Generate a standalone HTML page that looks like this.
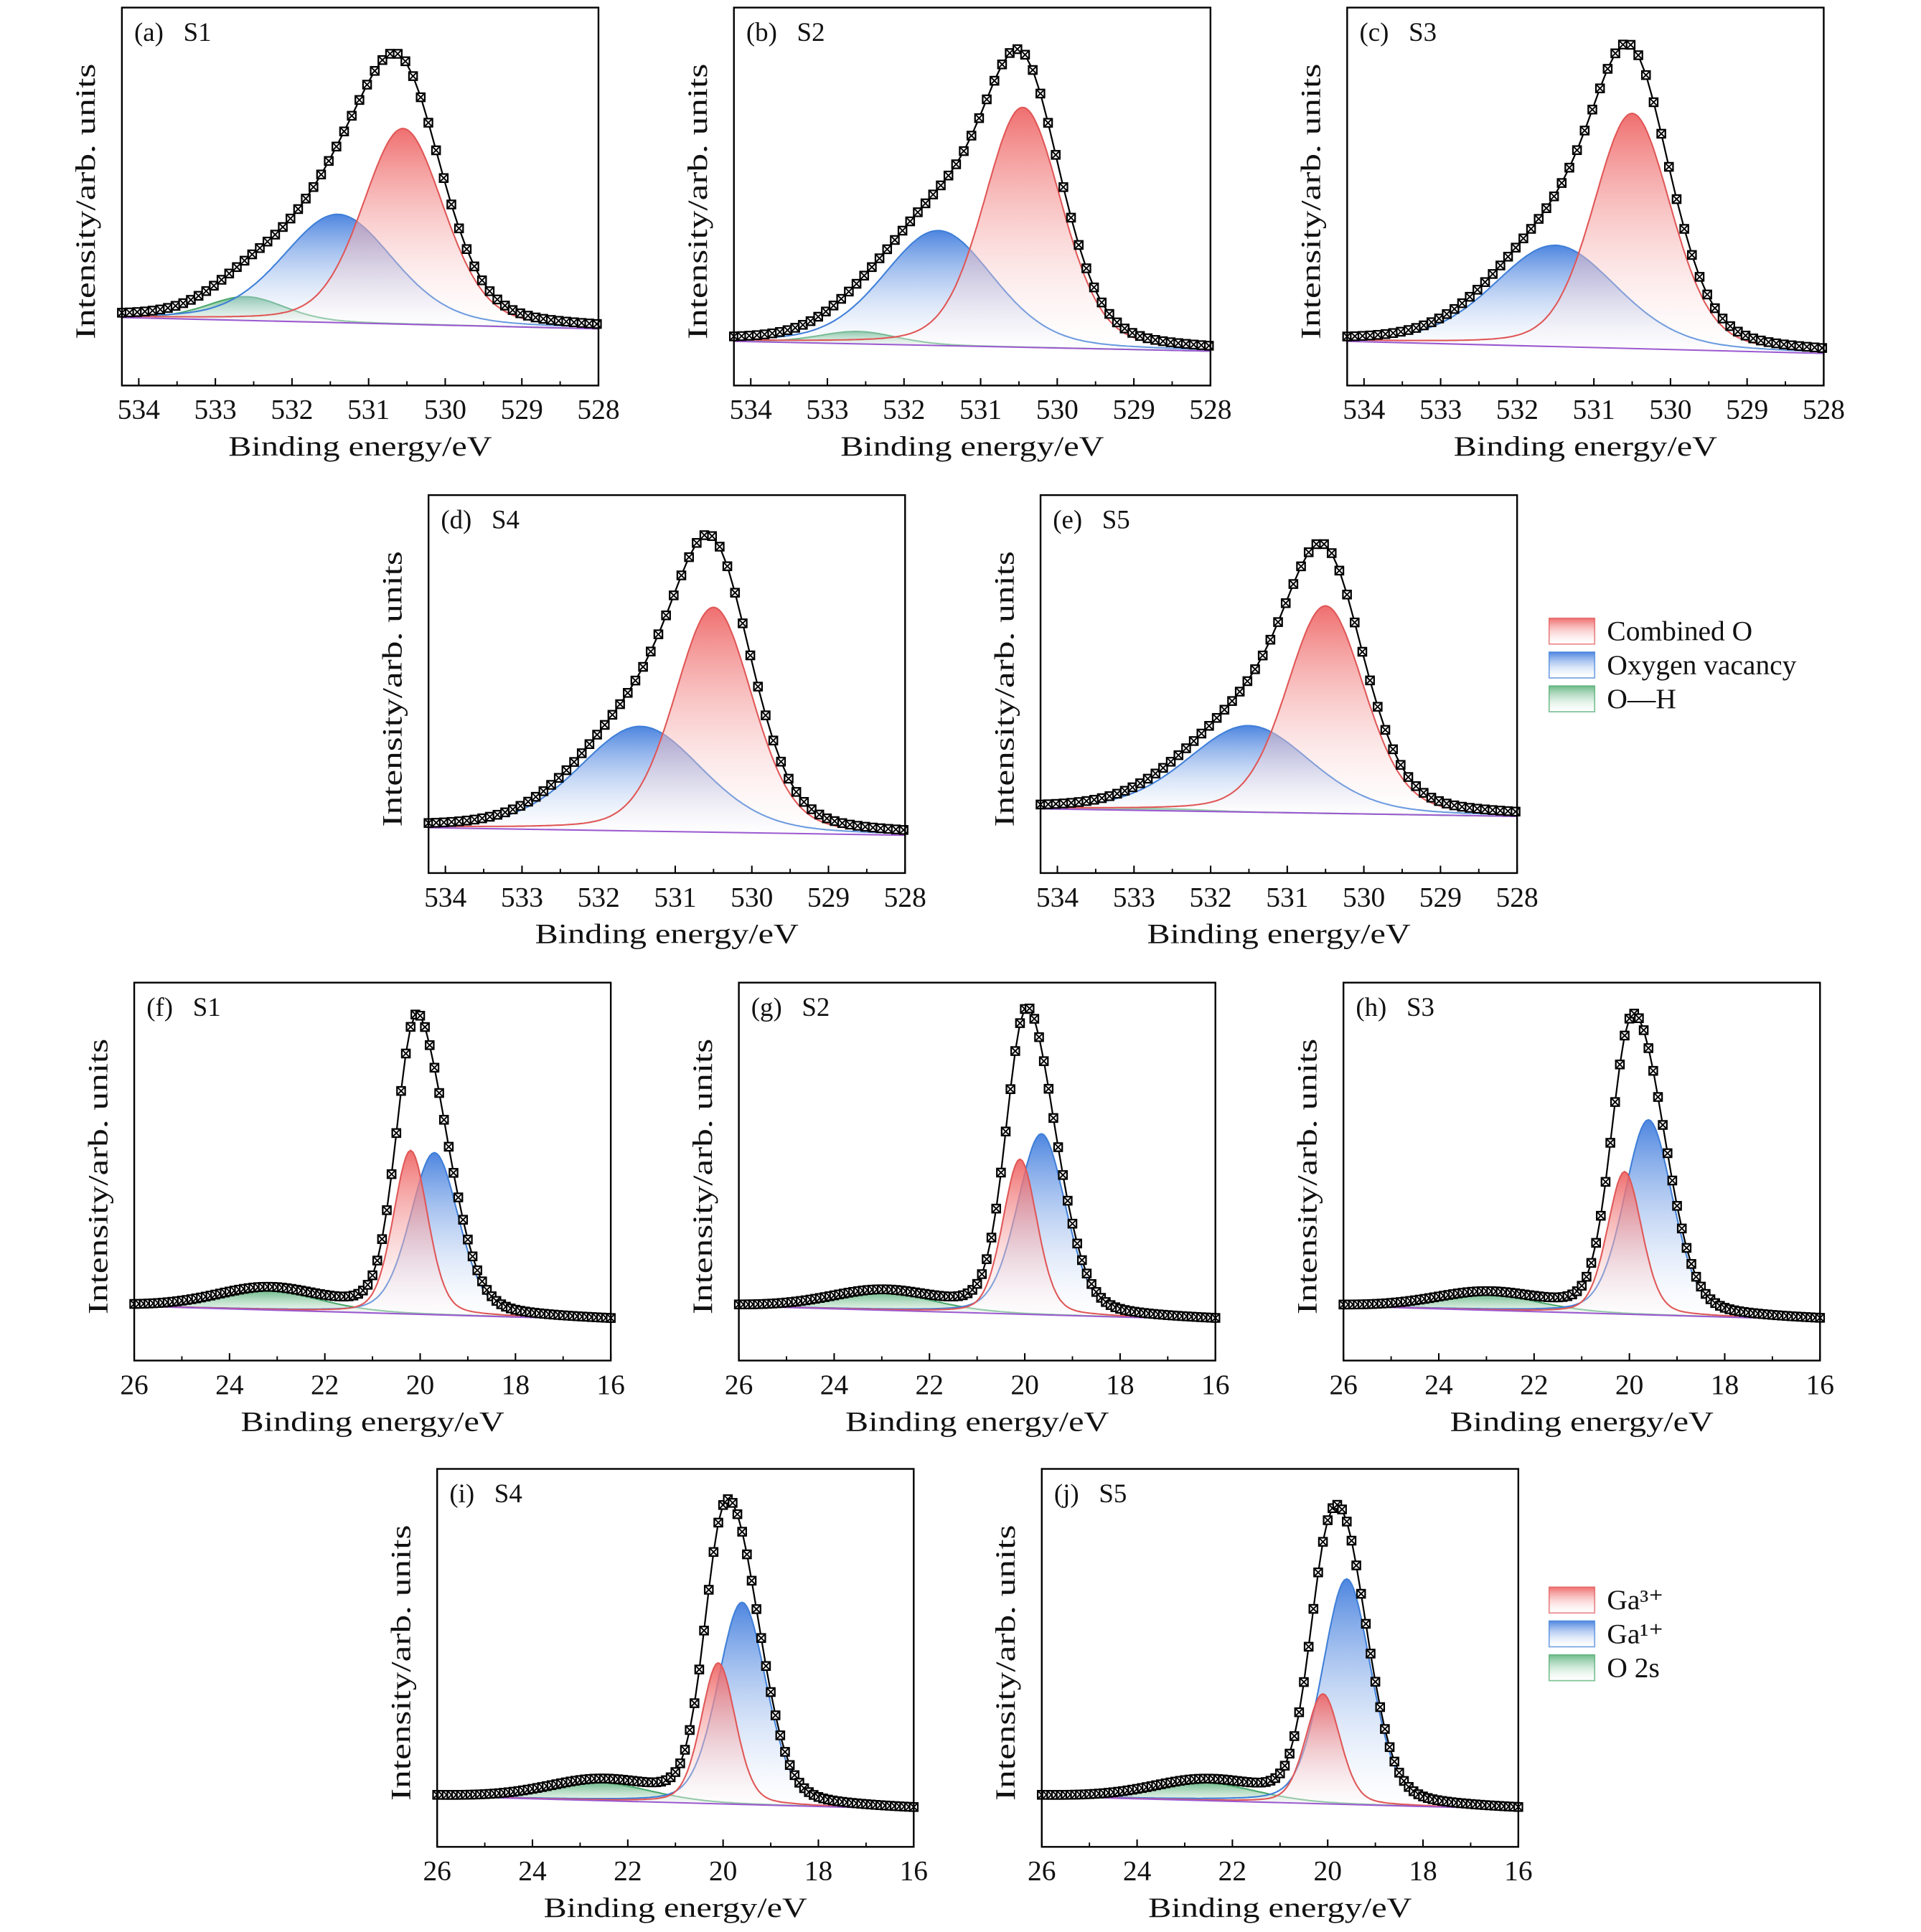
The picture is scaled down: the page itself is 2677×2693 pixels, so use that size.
<!DOCTYPE html>
<html><head><meta charset="utf-8">
<style>
html,body{margin:0;padding:0;background:#fff;}
svg{display:block;font-family:"Liberation Serif",serif;}
</style></head>
<body>
<svg id="fig" width="2677" height="2693" viewBox="0 0 1560 1569" xmlns="http://www.w3.org/2000/svg">
<defs>
<linearGradient id="gRed" x1="0" y1="0" x2="0" y2="1"><stop offset="0" stop-color="#ee5f5f" stop-opacity="0.9"/><stop offset="1" stop-color="#ffffff" stop-opacity="0.2"/></linearGradient>
<linearGradient id="gBlue" x1="0" y1="0" x2="0" y2="1"><stop offset="0" stop-color="#3a78dc" stop-opacity="0.9"/><stop offset="1" stop-color="#ffffff" stop-opacity="0.2"/></linearGradient>
<linearGradient id="gGreen" x1="0" y1="0" x2="0" y2="1"><stop offset="0" stop-color="#4aaa6e" stop-opacity="0.8"/><stop offset="1" stop-color="#ffffff" stop-opacity="0.2"/></linearGradient>
</defs>
</svg>
<script>
// ---- data ----
const panelLabels = ["(a)  S1","(b)  S2","(c)  S3","(d)  S4","(e)  S5","(f)  S1","(g)  S2","(h)  S3","(i)  S4","(j)  S5"];
const panelKinds = ["O","O","O","O","O","Ga","Ga","Ga","Ga","Ga"];
// peak order: red, blue, green
const peakCenters = [
 [530.55,531.4,532.6],[530.45,531.55,532.6],[530.5,531.5,532.6],[530.5,531.45,532.6],[530.5,531.5,532.6],
 [20.2,19.7,23.2],[20.1,19.65,23.0],[20.1,19.6,23.0],[20.1,19.6,22.6],[20.1,19.6,22.6]];
const peakTops = [
 [0.68,0.453,0.235],[0.736,0.41,0.143],[0.72,0.371,0.11],[0.703,0.388,0.115],[0.707,0.39,0.17],
 [0.556,0.55,0.185],[0.533,0.60,0.18],[0.50,0.637,0.175],[0.487,0.647,0.17],[0.405,0.709,0.17]];
const peakFwhm = [
 [1.25,1.7,1.2],[1.2,1.7,1.2],[1.2,1.9,1.2],[1.2,1.9,1.2],[1.2,1.9,1.2],
 [0.85,1.2,2.6],[0.85,1.2,2.6],[0.85,1.2,2.6],[0.85,1.2,2.6],[0.85,1.2,2.6]];
const envelopeTops = [0.88,0.89,0.905,0.896,0.873,0.918,0.935,0.918,0.92,0.905];
const baseLeft = [0.18,0.117,0.117,0.12,0.17,0.144,0.144,0.144,0.134,0.134];
const baseRight = [0.15,0.091,0.085,0.10,0.15,0.108,0.108,0.108,0.10,0.10];
const oTicks = [534,533,532,531,530,529,528];
const gaTicks = [26,24,22,20,18,16];
const legend1 = ["Combined O","Oxygen vacancy","O—H"];
const legend2 = ["Ga³⁺","Ga¹⁺","O 2s"];

// ---- layout ----
const boxes = [[99,6],[596,6],[1094,6],[348,402],[845,402],[109,798],[600,798],[1091,798],[355,1193],[846,1193]];
const BW=387, BH=307;
const NS="http://www.w3.org/2000/svg";
const svg=document.getElementById('fig');
function mk(tag,attrs,parent){const e=document.createElementNS(NS,tag);for(const k in attrs)e.setAttribute(k,attrs[k]);(parent||svg).appendChild(e);return e;}
function pv(x,c,f){const s=f/2.3548;const g=Math.exp(-(x-c)*(x-c)/(2*s*s));const l=1/(1+Math.pow((x-c)/(f/2),2));return 0.75*g+0.25*l;}
const fills=["url(#gRed)","url(#gBlue)","url(#gGreen)"];
const strokes=["#e05656","#3f7fd8","#4aa86c"];
const pnames=["combined-peak","vacancy-peak","oh-peak"];

panelLabels.forEach((lab,i)=>{
  const [bx,by]=boxes[i];
  const isO=panelKinds[i]==="O";
  const xmin=isO?534.22:26, xmax=isO?528:16;
  const X=v=>bx+(v-xmin)/(xmax-xmin)*BW;
  const Y=v=>by+BH-v*BH;
  const g=mk('g',{});
  
  
  const base=v=>baseLeft[i]+(baseRight[i]-baseLeft[i])*(v-xmin)/(xmax-xmin);
  const amps=peakTops[i].map((t,k)=>t-base(peakCenters[i][k]));
  const comp=(k,v)=>amps[k]*pv(v,peakCenters[i][k],peakFwhm[i][k]);
  const N=200, xs=[];
  for(let n=0;n<=N;n++)xs.push(xmin+(xmax-xmin)*n/N);
  [2,1,0].forEach(k=>{
    if(amps[k]<0.005)return;
    let top="",bot="";
    xs.forEach((v,n)=>{top+=(n?"L":"M")+X(v).toFixed(1)+","+Y(base(v)+comp(k,v)).toFixed(1);});
    for(let n=N;n>=0;n--){bot+="L"+X(xs[n]).toFixed(1)+","+Y(base(xs[n])).toFixed(1);}
    const a=mk('path',{d:top+bot+"Z",fill:fills[k],stroke:"none"},g);
    
    
    const l=mk('path',{d:top,fill:"none",stroke:strokes[k],"stroke-width":1.2},g);
    
    
  });
  const bl=mk('line',{x1:X(xmin),y1:Y(base(xmin)),x2:X(xmax),y2:Y(base(xmax)),stroke:"#9b59d0","stroke-width":1.2},g);
  
  
  const sum=v=>comp(0,v)+comp(1,v)+comp(2,v);
  let best=0,bestV=xmin;
  xs.forEach(v=>{if(sum(v)>best){best=sum(v);bestV=v;}});
  const sc=(envelopeTops[i]-base(bestV))/best;
  const env=v=>base(v)+sc*sum(v);
  let ed="";
  const step=0.1;
  const pts=[];
  for(let v=xmin;v>=xmax-1e-9;v-=step)pts.push(v);
  pts.forEach((v,n)=>{ed+=(n?"L":"M")+X(v).toFixed(1)+","+Y(env(v)).toFixed(1);});
  const ep=mk('path',{d:ed,fill:"none",stroke:"#000","stroke-width":1.3},g);
  
  
  pts.forEach(v=>{
    const cx=X(v),cy=Y(env(v));
    const m=mk('g',{},g);
    
    
    mk('rect',{x:cx-3.3,y:cy-3.3,width:6.6,height:6.6,fill:"#fff",stroke:"#000","stroke-width":1.3},m);
    mk('path',{d:`M${cx-3},${cy-3}L${cx+3},${cy+3}M${cx+3},${cy-3}L${cx-3},${cy+3}`,stroke:"#000","stroke-width":1.1},m);
  });
  const fr=mk('rect',{x:bx,y:by,width:BW,height:BH,fill:"none",stroke:"#000","stroke-width":1.4},g);
  
  
  const ticks=isO?oTicks:gaTicks;
  ticks.forEach(t=>{
    const tx=X(t);
    mk('line',{x1:tx,y1:by+BH,x2:tx,y2:by+BH-6,stroke:"#000","stroke-width":1.2},g);
    const tl=mk('text',{x:tx,y:by+BH+27,"font-size":23,"text-anchor":"middle",fill:"#111"},g);
    tl.textContent=t;
    
    
  });
  const minors=isO?[533.5,532.5,531.5,530.5,529.5,528.5]:[25,23,21,19,17];
  minors.forEach(t=>{mk('line',{x1:X(t),y1:by+BH,x2:X(t),y2:by+BH-3.5,stroke:"#000","stroke-width":1.1},g);});
  const xt=mk('text',{x:bx+BW/2,y:by+BH+57,"font-size":23,"text-anchor":"middle",fill:"#111",textLength:214,lengthAdjust:"spacingAndGlyphs"},g);
  xt.textContent="Binding energy/eV";
  
  
  const yt=mk('text',{x:0,y:0,"font-size":23,"text-anchor":"middle",fill:"#111",textLength:224,lengthAdjust:"spacingAndGlyphs",transform:`translate(${bx-22},${by+BH/2+4}) rotate(-90)`},g);
  yt.textContent="Intensity/arb. units";
  
  
  const pl=mk('text',{x:bx+10,y:by+27,"font-size":21.5,fill:"#111","xml:space":"preserve"},g);
  pl.textContent=lab.replace("  ","\u00a0\u00a0\u00a0");
  
  
});

function legend(items,y0,name){
  const g=mk('g',{});
  
  
  items.forEach((t,k)=>{
    const y=y0+k*27.5;
    mk('rect',{x:1258,y:y,width:37,height:21,fill:fills[k],stroke:strokes[k],"stroke-width":1,"stroke-opacity":0.7},g);
    const tx=mk('text',{x:1305,y:y+18,"font-size":23,fill:"#111"},g);
    tx.textContent=t;
    
    
  });
}
legend(legend1,502,'legend-o1s');
legend(legend2,1289,'legend-ga3d');
</script>
</body></html>
